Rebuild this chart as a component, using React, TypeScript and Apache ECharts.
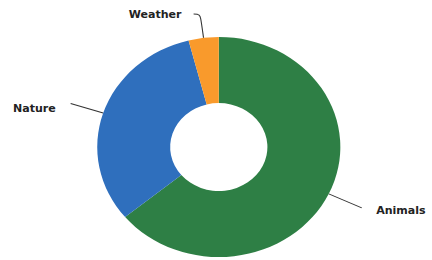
import React, { useEffect, useRef } from "react";
import * as echarts from "echarts";

const categories = ["Animals", "Nature", "Weather"];
const values = [64, 32, 4];
const colors = ["#2e7f45", "#2f6fbd", "#f99a2c"];

const STRETCH = 1.105;
const W = Math.round(432 / STRETCH);

export default function App() {
  const ref = useRef<HTMLDivElement>(null);
  useEffect(() => {
    if (!ref.current) return;
    const chart = echarts.init(ref.current, null, { renderer: "svg" });
    const labelBase = {
      show: true,
      formatter: "{b}",
      color: "#222",
      fontFamily: "DejaVu Sans",
      fontWeight: "bold",
      fontSize: 10,
      overflow: "none",
      edgeDistance: 0,
    };
    const lineStyle = { color: "#333", width: 1 };
    const perItem = [
      {
        label: { alignTo: "none", distanceToLabelLine: 13 },
        labelLine: { show: true, length: 33, length2: 0, smooth: false, lineStyle },
      },
      {
        label: { alignTo: "none", distanceToLabelLine: 13.5 },
        labelLine: { show: true, length: 31, length2: 0, smooth: false, lineStyle },
      },
      {
        label: { alignTo: "none", distanceToLabelLine: 11 },
        labelLine: { show: true, length: 24, length2: 6, smooth: 0.4, lineStyle },
      },
    ];
    const labelDy = [2, 5, 0];
    chart.setOption({
      animation: false,
      backgroundColor: "#ffffff",
      series: [
        {
          type: "pie",
          center: [198, 147],
          radius: [44, 110],
          startAngle: 90,
          clockwise: true,
          bleedMargin: 0,
          data: categories.map((c, i) => ({
            name: c,
            value: values[i],
            itemStyle: { color: colors[i] },
            label: { ...labelBase, ...perItem[i].label },
            labelLine: perItem[i].labelLine,
          })),
          label: labelBase,
          labelLine: { show: true, lineStyle },
          labelLayout: (p: any) => ({ dy: labelDy[p.dataIndex] }),
          emphasis: { disabled: true },
        },
      ],
    });
    return () => chart.dispose();
  }, []);
  return (
    <div
      style={{
        position: "absolute",
        left: 0,
        top: 0,
        width: 432,
        height: 260,
        overflow: "hidden",
        background: "#ffffff",
      }}
    >
      <div
        ref={ref}
        style={{
          width: W,
          height: 260,
          transform: `scaleX(${STRETCH})`,
          transformOrigin: "0 0",
        }}
      />
    </div>
  );
}
